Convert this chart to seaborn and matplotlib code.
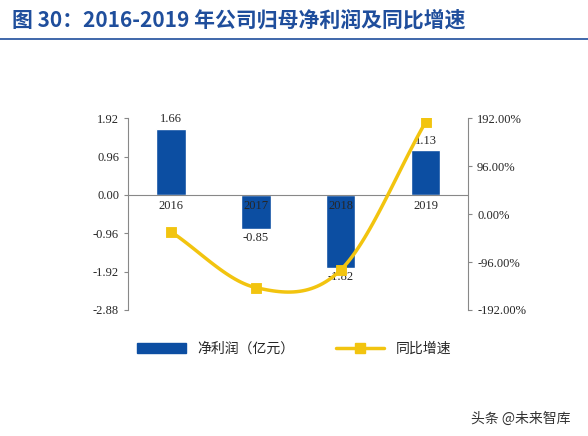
import numpy as np
import pandas as pd
import matplotlib
matplotlib.use("Agg")
import matplotlib.pyplot as plt
import seaborn as sns
from matplotlib.lines import Line2D
from matplotlib.patches import Patch

sns.set_style("white")
plt.rcParams['font.family'] = ['Noto Sans CJK SC', 'DejaVu Sans']

years = ["2016", "2017", "2018", "2019"]
profit = [1.66, -0.85, -1.82, 1.13]
growth = [-35.0, -147.0, -112.0, 184.0]
bar_labels = ["1.66", "-0.85", "-1.82", "1.13"]

df = pd.DataFrame({"year": years, "profit": profit, "growth": growth})

fig = plt.figure(figsize=(5.88, 4.36), dpi=100)
ax = fig.add_axes([0.218, 0.289, 0.578, 0.44])
sns.barplot(data=df, x="year", y="profit", color="#0c4ea2", width=0.35, ax=ax, saturation=1)
ax.set_ylim(-2.88, 1.92)
ax.set_yticks(np.arange(-2.88, 1.93, 0.96))
ax.set_yticklabels([f"{v:.2f}" for v in np.arange(-2.88, 1.93, 0.96)], fontsize=9, family="Liberation Serif")
ax.set_xlabel("")
ax.set_ylabel("")
ax.set_xticks([])
ax.axhline(0, color="#888888", lw=0.8)
for s in ["top", "bottom"]:
    ax.spines[s].set_visible(False)
ax.spines["left"].set_color("#888888")
ax.spines["right"].set_visible(False)
ax.tick_params(axis="y", length=3, color="#888888", left=True)

for i, (y, lab) in enumerate(zip(profit, bar_labels)):
    ax.text(i, 0.0 - 0.12, years[i], ha="center", va="top", fontsize=9, family="Liberation Serif")
    off = 0.08 if y > 0 else -0.08
    ax.text(i, y + off, lab, ha="center", va="bottom" if y > 0 else "top", fontsize=9, family="Liberation Serif")

ax2 = ax.twinx()
# smooth curve through the points (Catmull-Rom)
x = np.arange(len(growth), dtype=float)
yv = np.array(growth)
px = np.concatenate([[2 * x[0] - x[1]], x, [2 * x[-1] - x[-2]]])
py = np.concatenate([[2 * yv[0] - yv[1]], yv, [2 * yv[-1] - yv[-2]]])
cx, cy = [], []
for k in range(1, len(px) - 2):
    t = np.linspace(0, 1, 30)
    for arr, out in ((px, cx), (py, cy)):
        p0, p1, p2, p3 = arr[k - 1], arr[k], arr[k + 1], arr[k + 2]
        out.extend(0.5 * (2 * p1 + (-p0 + p2) * t + (2 * p0 - 5 * p1 + 4 * p2 - p3) * t**2
                          + (-p0 + 3 * p1 - 3 * p2 + p3) * t**3))
ax2.plot(cx, cy, color="#f2c40f", lw=2.5)
sns.scatterplot(x=x, y=yv, marker="s", s=60, color="#f2c40f", edgecolor="#f2c40f", ax=ax2, zorder=5)
ax2.set_ylim(-192, 192)
ax2.set_yticks([-192, -96, 0, 96, 192])
ax2.set_yticklabels(["-192.00%", "-96.00%", "0.00%", "96.00%", "192.00%"], fontsize=9, family="Liberation Serif")
ax2.set_xlim(-0.5, 3.5)
ax.set_xlim(-0.5, 3.5)
for s in ["top", "bottom", "left"]:
    ax2.spines[s].set_visible(False)
ax2.spines["right"].set_color("#888888")
ax2.tick_params(axis="y", length=3, color="#888888", right=True)

handles = [Patch(color="#0c4ea2"), Line2D([0], [0], color="#f2c40f", lw=2.5, marker="s", ms=7)]
fig.legend(handles, ["净利润（亿元）", "同比增速"], loc="center", bbox_to_anchor=(0.5, 0.2),
           ncol=2, frameon=False, fontsize=10, handlelength=3.5, columnspacing=3)

fig.text(0.02, 0.955, "图 30：2016-2019 年公司归母净利润及同比增速", color="#1f4e9c",
         fontsize=15, fontweight="bold", va="center")
fig.add_artist(Line2D([0.0, 1.0], [0.91, 0.91], color="#1f4e9c", lw=1.2))
fig.text(0.97, 0.04, "头条 @未来智库", ha="right", va="center", fontsize=10, color="#333333")

fig.savefig("out.png", dpi=100)
